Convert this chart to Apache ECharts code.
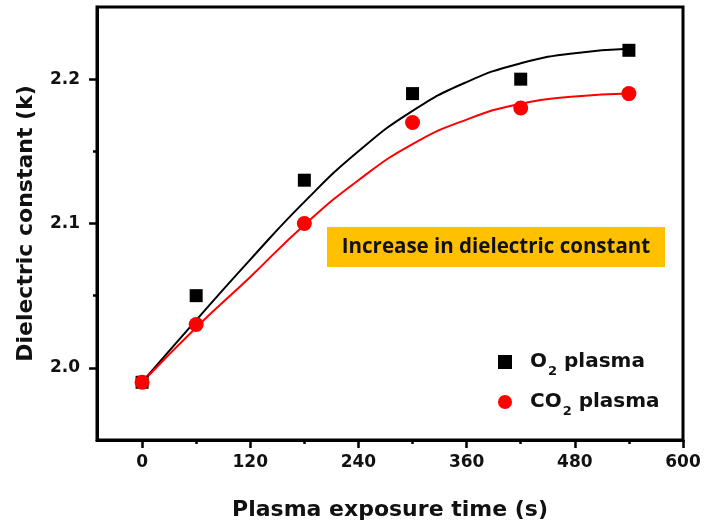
<!DOCTYPE html>
<html>
<head>
<meta charset="utf-8">
<style>
  html, body { margin: 0; padding: 0; background: #fff; }
  #chart { width: 706px; height: 529px; }
</style>
<script src="https://cdn.jsdelivr.net/npm/echarts@6/dist/echarts.min.js"></script>
</head>
<body>
<div id="chart"></div>
<script>
// 测量点：等离子体处理时间（s）
const times = [0, 60, 180, 300, 420, 540];
// 测量点：介电常数
const o2Values = [1.99, 2.05, 2.13, 2.19, 2.2, 2.22];
const co2Values = [1.99, 2.03, 2.1, 2.17, 2.18, 2.19];

// 拟合曲线（从图上读出来的点）
const fitTimes = [0, 60, 120, 180, 240, 300, 360, 420, 480, 540];
const o2Fit = [1.99, 2.033, 2.075, 2.115, 2.15, 2.178, 2.198, 2.211, 2.218, 2.221];
const co2Fit = [1.99, 2.028, 2.063, 2.099, 2.13, 2.155, 2.172, 2.183, 2.188, 2.19];

// 刻度
const xMajorTicks = [0, 120, 240, 360, 480, 600];
const xMinorTicks = [60, 180, 300, 420, 540];
const yMajorTicks = [2.0, 2.1, 2.2];
const yMinorTicks = [2.05, 2.15];

const legendNames = ["O2 plasma", "CO2 plasma"];

const FONT = "DejaVu Sans";

function pairs(xs, ys) {
  return xs.map((x, i) => [x, ys[i]]);
}

renderChart();

function renderChart() {
  const myChart = echarts.init(document.querySelector("#chart"));
  const gridBox = { left: 97, right: 23, top: 7, bottom: 89 };
  const axisLine = { show: true, onZero: false, lineStyle: { color: "#000", width: 3 } };

  const option = {
    backgroundColor: "#fff",
    animation: false,
    // 两个重叠的网格：一个画主刻度和数据，一个只画次刻度
    grid: [
      Object.assign({ show: true, borderColor: "#000", borderWidth: 3, outerBoundsMode: "none" }, gridBox),
      Object.assign({ show: false, outerBoundsMode: "none" }, gridBox),
    ],
    xAxis: [
      {
        type: "value",
        gridIndex: 0,
        min: -50,
        max: 600,
        name: "Plasma exposure time (s)",
        nameLocation: "middle",
        nameGap: 59,
        nameTextStyle: { fontFamily: FONT, fontWeight: "bold", fontSize: 22, color: "#111" },
        axisLine: axisLine,
        splitLine: { show: false },
        axisTick: {
          show: true,
          customValues: xMajorTicks,
          length: 8,
          lineStyle: { color: "#000", width: 2.5 },
        },
        axisLabel: {
          customValues: xMajorTicks,
          margin: 14,
          fontFamily: FONT,
          fontWeight: "bold",
          fontSize: 17,
          color: "#111",
        },
      },
      {
        type: "value",
        gridIndex: 1,
        min: -50,
        max: 600,
        axisLine: { show: false, onZero: false },
        splitLine: { show: false },
        axisLabel: { show: false },
        axisTick: {
          show: true,
          customValues: xMinorTicks,
          length: 4,
          lineStyle: { color: "#000", width: 2.5 },
        },
      },
    ],
    yAxis: [
      {
        type: "value",
        gridIndex: 0,
        min: 1.95,
        max: 2.25,
        name: "Dielectric constant (k)",
        nameLocation: "middle",
        nameGap: 60,
        nameTextStyle: { fontFamily: FONT, fontWeight: "bold", fontSize: 22, color: "#111" },
        axisLine: axisLine,
        splitLine: { show: false },
        axisTick: {
          show: true,
          customValues: yMajorTicks,
          length: 8,
          lineStyle: { color: "#000", width: 2.5 },
        },
        axisLabel: {
          customValues: yMajorTicks,
          margin: 17,
          formatter: (v) => v.toFixed(1),
          fontFamily: FONT,
          fontWeight: "bold",
          fontSize: 17,
          color: "#111",
        },
      },
      {
        type: "value",
        gridIndex: 1,
        min: 1.95,
        max: 2.25,
        axisLine: { show: false, onZero: false },
        splitLine: { show: false },
        axisLabel: { show: false },
        axisTick: {
          show: true,
          customValues: yMinorTicks,
          length: 4,
          lineStyle: { color: "#000", width: 2.5 },
        },
      },
    ],
    // 图例：下标用富文本
    legend: {
      orient: "vertical",
      left: 493,
      top: 347,
      itemWidth: 14,
      itemHeight: 14,
      itemGap: 14,
      data: [
        { name: legendNames[0], icon: "rect" },
        { name: legendNames[1], icon: "circle" },
      ],
      formatter: (name) =>
        name === legendNames[0] ? "{gap| }{n|O}{s|2}{n| plasma}" : "{gap| }{n|CO}{s|2}{n| plasma}",
      textStyle: {
        rich: {
          gap: { width: 13 },
          n: { fontFamily: FONT, fontWeight: "bold", fontSize: 20, lineHeight: 32, color: "#111" },
          s: {
            fontFamily: FONT,
            fontWeight: "bold",
            fontSize: 13,
            lineHeight: 13,
            verticalAlign: "bottom",
            color: "#111",
            padding: [0, 0, 0, 1],
          },
        },
      },
    },
    // 橙色标注框
    graphic: [
      {
        type: "rect",
        shape: { x: 327, y: 227, width: 338, height: 40 },
        style: { fill: "#FFC000" },
      },
      {
        type: "text",
        x: 496,
        y: 247,
        style: {
          text: "Increase in dielectric constant",
          font: "bold 20.5px 'Open Sans'",
          fill: "#111",
          align: "center",
          verticalAlign: "middle",
        },
      },
    ],
    series: [
      {
        name: "O2 fit",
        type: "line",
        data: pairs(fitTimes, o2Fit),
        smooth: true,
        showSymbol: false,
        lineStyle: { color: "#000", width: 2 },
        z: 2,
      },
      {
        name: "CO2 fit",
        type: "line",
        data: pairs(fitTimes, co2Fit),
        smooth: true,
        showSymbol: false,
        lineStyle: { color: "#f00", width: 2 },
        z: 2,
      },
      {
        name: legendNames[0],
        type: "scatter",
        data: pairs(times, o2Values),
        symbol: "rect",
        symbolSize: 13,
        itemStyle: { color: "#000", opacity: 1 },
        z: 3,
      },
      {
        name: legendNames[1],
        type: "scatter",
        data: pairs(times, co2Values),
        symbol: "circle",
        symbolSize: 15,
        itemStyle: { color: "#f00", opacity: 1 },
        z: 4,
      },
    ],
  };
  myChart.setOption(option);
}
</script>
</body>
</html>
